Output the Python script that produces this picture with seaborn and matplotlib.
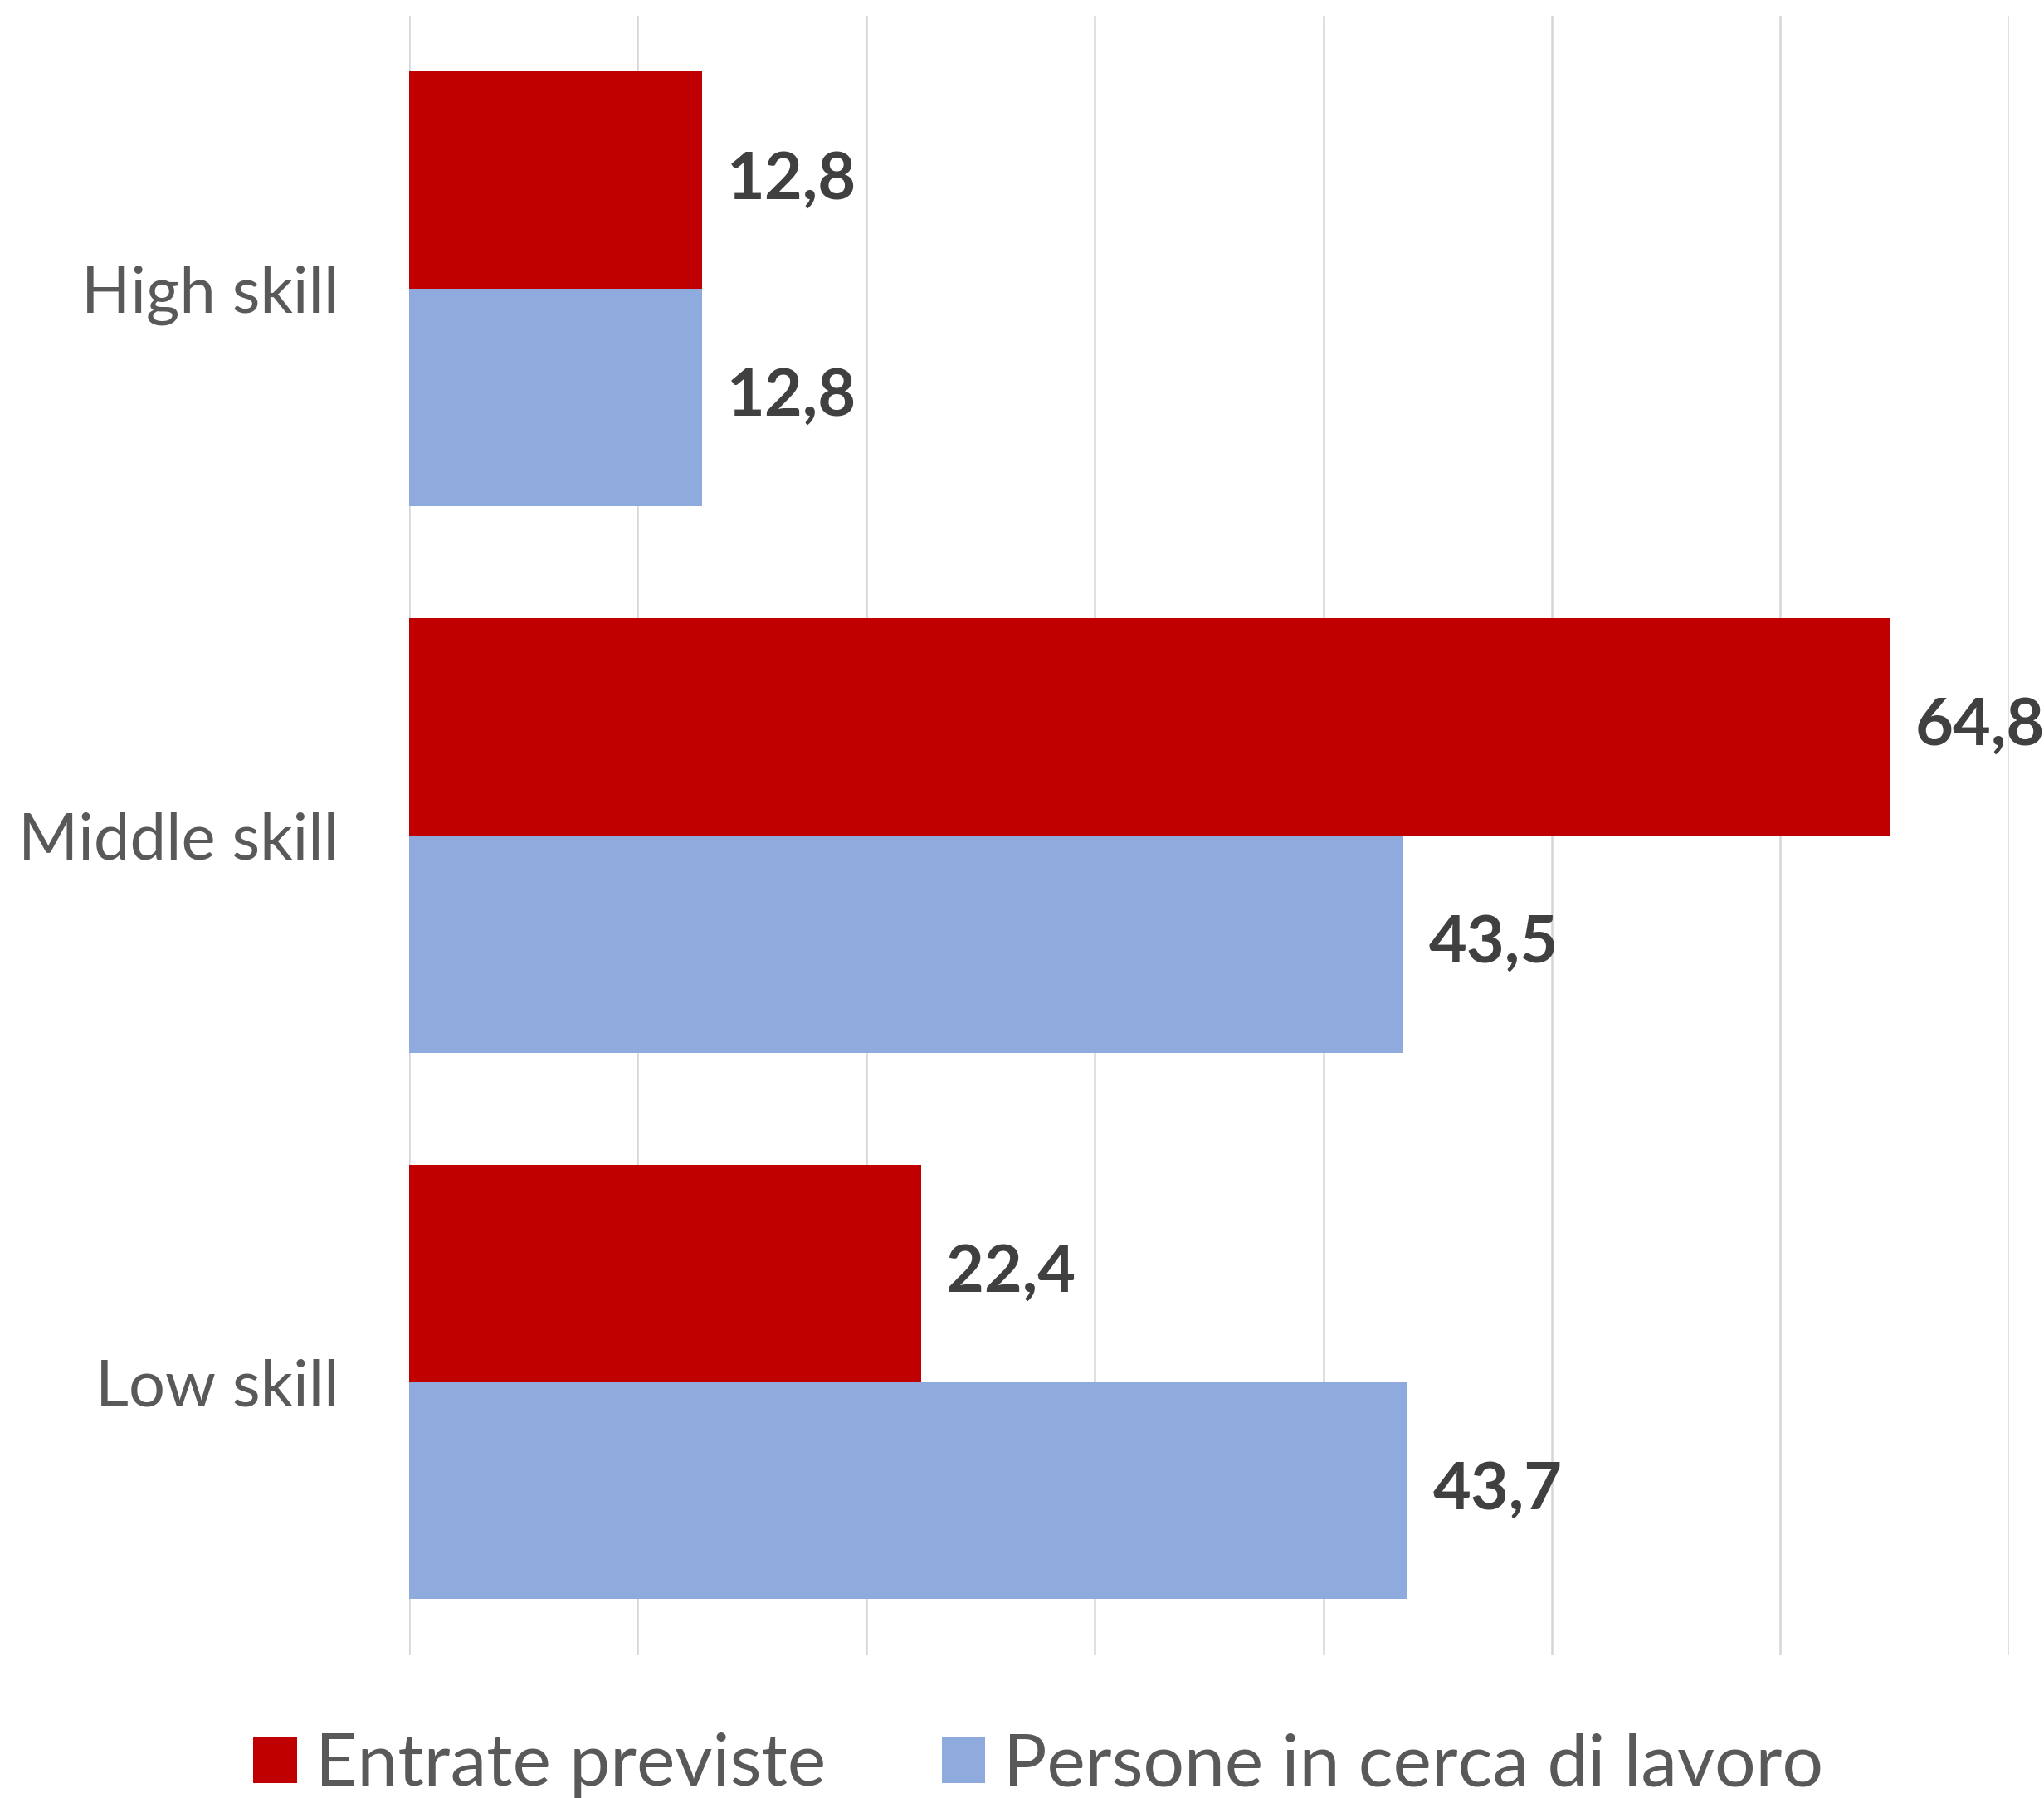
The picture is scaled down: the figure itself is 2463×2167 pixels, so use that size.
import numpy as np
import pandas as pd
import matplotlib
matplotlib.use("Agg")
import matplotlib.pyplot as plt
import seaborn as sns
from matplotlib.patches import Patch

categories = ["High skill", "Middle skill", "Low skill"]
series = ["Entrate previste", "Persone in cerca di lavoro"]
entrate = [12.8, 64.8, 22.4]
persone = [12.8, 43.5, 43.7]
colors = ["#C00000", "#8FAADC"]
xticks = [0, 10, 20, 30, 40, 50, 60, 70]

df = pd.DataFrame({
    "categoria": categories * 2,
    "serie": [series[0]] * 3 + [series[1]] * 3,
    "valore": entrate + persone,
})

sns.set_theme(style="white")
plt.rcParams['font.family'] = ['Lato', 'DejaVu Sans']

fig = plt.figure(figsize=(24.63, 21.67), dpi=100)
ax = fig.add_axes([0.2002, 0.0794, 0.7826, 0.9119])

sns.barplot(data=df, y="categoria", x="valore", hue="serie", orient="h",
            palette=colors, width=0.795, order=categories, hue_order=series,
            saturation=1, ax=ax, legend=False, edgecolor="none")

for cont in ax.containers:
    labs = [f"{v:.1f}".replace(".", ",") for v in cont.datavalues]
    ax.bar_label(cont, labels=labs, padding=22, fontsize=57, color="#404040",
                 fontweight="bold")

ax.set_xlim(0, 70)
ax.set_ylim(2.5, -0.5)
ax.set_xticks(xticks)
ax.set_xticklabels([])
ax.grid(axis="x", color="#D6D6D6", linewidth=1.8)
ax.set_axisbelow(True)
for s in ax.spines.values():
    s.set_visible(False)
ax.tick_params(axis="both", length=0)
ax.tick_params(axis="y", pad=61, labelsize=56, labelcolor="#595959")
ax.set_xlabel("")
ax.set_ylabel("")

handles = [Patch(facecolor=c, edgecolor="none") for c in colors]
fig.legend(handles, series, loc="center", bbox_to_anchor=(0.508, 0.018), ncol=2,
           frameon=False, fontsize=63, labelcolor="#595959", handlelength=0.6,
           handleheight=0.6, handletextpad=0.25, columnspacing=1.6)

fig.savefig("out.png", dpi=100)
